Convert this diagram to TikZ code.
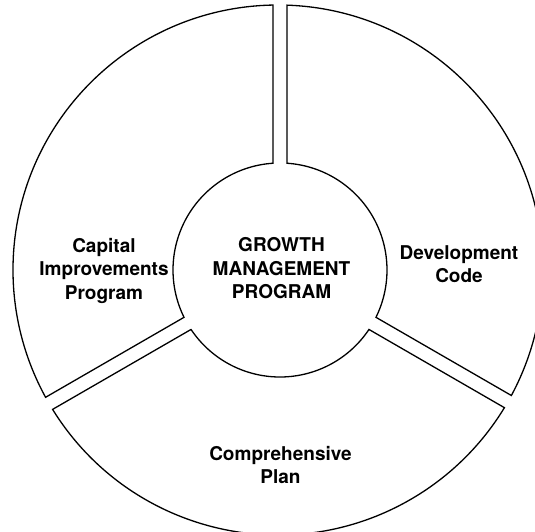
\documentclass[tikz,border=0pt]{standalone}
\usepackage{fontspec}
\setmainfont{TeX Gyre Heros}
\begin{document}
\begin{tikzpicture}[x=1pt,y=1pt,
  sector/.style={draw=black, line width=1.3pt, line join=miter},
  caption/.style={align=center, inner sep=0pt,
    font=\fontsize{19}{23.5}\selectfont\bfseries}]
  \useasboundingbox (-280,-261) rectangle (255,270);
  % ring of three sectors around a central hub (hub radius 107, ring radius 265)
  % inner and outer corners on either side of the three gaps
  \coordinate (ti1) at (-7,106.77);    \coordinate (to1) at (-7,264.95);
  \coordinate (ti2) at (7,106.77);     \coordinate (to2) at (7,264.85);
  \coordinate (li1) at (-95.97,-47.32); \coordinate (lo1) at (-234.43,-127.27);
  \coordinate (li2) at (-88.97,-59.45); \coordinate (lo2) at (-227.39,-139.37);
  \coordinate (ri1) at (95.97,-47.32);  \coordinate (ro1) at (231.39,-125.51);
  \coordinate (ri2) at (88.97,-59.45);  \coordinate (ro2) at (224.43,-137.66);
  % Capital Improvements Program
  \draw[sector] (ti1) -- (to1)
    arc[start angle=91.08, end angle=208.71, radius=265] -- (li1)
    arc[start angle=206.25, end angle=93.75, radius=107] -- cycle;
  % Development Code
  \draw[sector] (ti2) -- (to2)
    arc[start angle=88.05, end angle=-28.27, radius=265] -- (ri1)
    arc[start angle=-26.25, end angle=86.25, radius=107] -- cycle;
  % Comprehensive Plan
  \draw[sector] (li2) -- (lo2)
    arc[start angle=211.73, end angle=328.70, radius=265] -- (ri2)
    arc[start angle=326.25, end angle=213.75, radius=107] -- cycle;
  % labels
  \node[caption] (hub) at (1.5,1.5) {GROWTH\\MANAGEMENT\\PROGRAM};
  \node[caption] (cip) at (-176,-0.5) {Capital\\Improvements\\Program};
  \node[caption] (dev) at (179,6) {Development\\Code};
  \node[caption] (plan) at (0.5,-195) {Comprehensive\\Plan};
\end{tikzpicture}
\end{document}
